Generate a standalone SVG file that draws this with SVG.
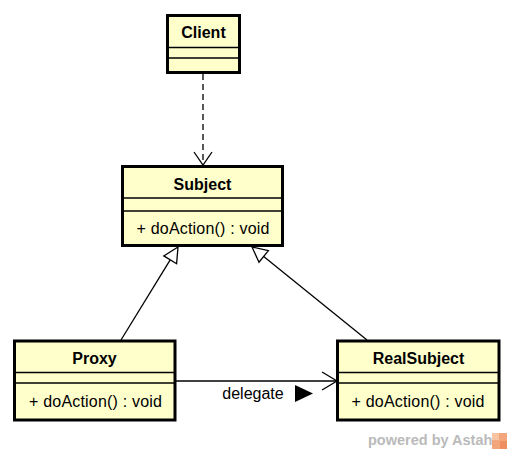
<svg xmlns="http://www.w3.org/2000/svg" width="513" height="454" viewBox="0 0 513 454">
  <style>
    .box { fill: #ffffcc; stroke: #000; stroke-width: 3; }
    .div { stroke: #000; stroke-width: 1.3; fill: none; }
    .name { font-family: "Liberation Sans", Arial, sans-serif; font-weight: bold; font-size: 16px; fill: #000; text-anchor: middle; }
    .op { font-family: "Liberation Sans", Arial, sans-serif; font-size: 16px; fill: #000; }
    .line { stroke: #000; stroke-width: 1.3; fill: none; }
    .wm { font-family: "Liberation Sans", Arial, sans-serif; font-weight: bold; font-size: 14.5px; fill: #bababa; }
  </style>
  <rect width="513" height="454" fill="#ffffff"/>

  <g id="connectors">
    <line class="line" x1="203" y1="74" x2="203" y2="165" stroke-dasharray="6,4"/>
    <polyline class="line" points="194,152 203,165 212,152"/>
    <line class="line" x1="121" y1="340" x2="170.2" y2="259.8"/>
    <polygon points="178,247 163.8,255.9 176.6,263.7" fill="#ffffff" stroke="#000" stroke-width="1.3"/>
    <line class="line" x1="367" y1="340" x2="263.7" y2="256.4"/>
    <polygon points="252,247 268.4,250.6 259,262.2" fill="#ffffff" stroke="#000" stroke-width="1.3"/>
    <line class="line" x1="176" y1="381" x2="337" y2="381"/>
    <polyline class="line" points="322,372 337,381 322,390"/>
    <text class="op" x="253" y="399" text-anchor="middle">delegate</text>
    <polygon points="295,385 313,393.5 295,402" fill="#000"/>
  </g>

  <g id="Client">
    <rect class="box" x="167.5" y="15.5" width="72" height="57"/>
    <text class="name" x="203.5" y="38">Client</text>
    <line class="div" x1="167.5" y1="47.5" x2="239.5" y2="47.5"/>
    <line class="div" x1="167.5" y1="58" x2="239.5" y2="58"/>
  </g>

  <g id="Subject">
    <rect class="box" x="122.5" y="166.5" width="160" height="79"/>
    <text class="name" x="202.5" y="190">Subject</text>
    <line class="div" x1="122.5" y1="198" x2="282.5" y2="198"/>
    <line class="div" x1="122.5" y1="211" x2="282.5" y2="211"/>
    <text class="op" x="136.5" y="234" textLength="133">+ doAction() : void</text>
  </g>

  <g id="Proxy">
    <rect class="box" x="14.5" y="341" width="160.5" height="79"/>
    <text class="name" x="94.5" y="364">Proxy</text>
    <line class="div" x1="14.5" y1="372.5" x2="175" y2="372.5"/>
    <line class="div" x1="14.5" y1="383" x2="175" y2="383"/>
    <text class="op" x="29" y="407" textLength="133">+ doAction() : void</text>
  </g>

  <g id="RealSubject">
    <rect class="box" x="337.5" y="341" width="161.5" height="79"/>
    <text class="name" x="418.5" y="364">RealSubject</text>
    <line class="div" x1="337.5" y1="372.5" x2="499" y2="372.5"/>
    <line class="div" x1="337.5" y1="383" x2="499" y2="383"/>
    <text class="op" x="351.5" y="407" textLength="133">+ doAction() : void</text>
  </g>

  <g id="watermark">
    <text class="wm" x="368" y="445">powered by Astah</text>
    <rect x="492" y="433" width="15" height="16" fill="#f3a57c"/>
    <rect x="492" y="433" width="7" height="7" fill="#f7c3a3"/>
    <rect x="500" y="441" width="7" height="8" fill="#ee8f5f"/>
  </g>
</svg>
